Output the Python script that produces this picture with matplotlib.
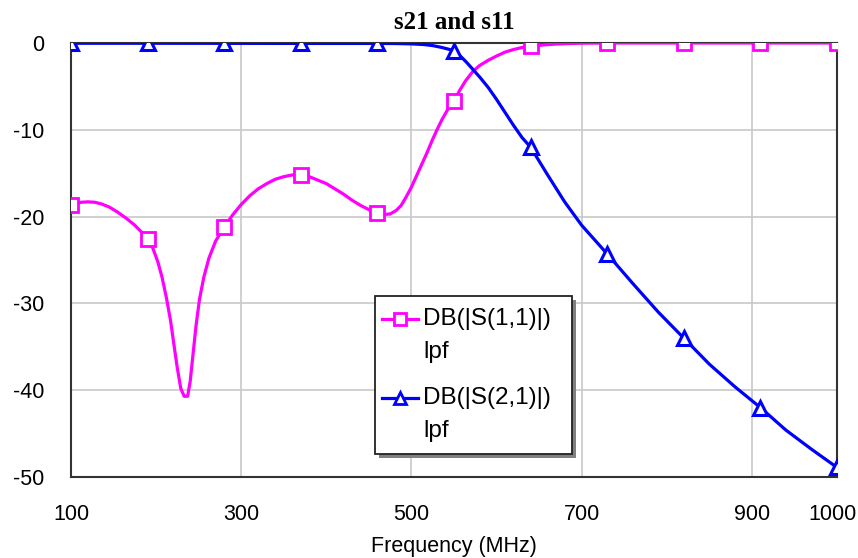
import matplotlib
matplotlib.use("Agg")
import matplotlib.pyplot as plt
from matplotlib.patches import Rectangle
import matplotlib.transforms as mtransforms

# ---- data ----
s11_freq = [100, 105, 112, 120, 128, 136, 145, 155, 165, 175, 183, 190, 196, 202, 207, 212,
            217, 221, 225, 229, 233, 237, 240, 243, 247, 251, 256, 262, 270, 280, 290, 300,
            310, 320, 330, 340, 350, 360, 370, 380, 390, 400, 410, 420, 430, 440, 450, 460,
            468, 475, 482, 488, 494, 500, 506, 512, 518, 524, 530, 536, 543, 550, 557, 564,
            572, 580, 590, 600, 610, 620, 630, 640, 655, 670, 685, 700, 730, 820, 910, 1000]
s11_db = [-18.7, -18.5, -18.35, -18.3, -18.35, -18.55, -18.9, -19.5, -20.2, -21.0, -21.8,
          -22.6, -23.6, -25.2, -27.0, -29.3, -32.0, -34.8, -37.5, -39.8, -40.7, -40.7, -39.0,
          -36.2, -32.5, -29.5, -27.0, -24.8, -22.8, -21.2, -19.8, -18.6, -17.6, -16.8, -16.2,
          -15.7, -15.4, -15.2, -15.2, -15.4, -15.8, -16.2, -16.8, -17.4, -18.1, -18.7, -19.2,
          -19.6, -19.75, -19.7, -19.3, -18.7, -17.7, -16.6, -15.3, -14.0, -12.7, -11.3, -10.0,
          -8.8, -7.6, -6.7, -5.4, -4.3, -3.3, -2.6, -2.0, -1.5, -1.05, -0.75, -0.52, -0.38,
          -0.22, -0.12, -0.06, -0.02, 0.0, 0.0, 0.0, 0.0]

s21_freq = [100, 190, 280, 370, 460, 480, 500, 515, 525, 535, 545, 550, 555, 560, 565, 570,
            580, 590, 600, 610, 620, 630, 640, 660, 680, 700, 730, 760, 790, 820, 850, 880,
            910, 940, 970, 1000]
s21_db = [-0.03, -0.03, -0.04, -0.05, -0.05, -0.06, -0.1, -0.18, -0.3, -0.5, -0.75, -0.95,
          -1.3, -1.75, -2.25, -2.8, -3.9, -5.1, -6.5, -8.0, -9.5, -10.9, -12.0, -15.2, -18.3,
          -21.0, -24.3, -27.7, -31.0, -34.0, -37.0, -39.6, -42.0, -44.6, -46.8, -48.9]

marker_freqs = [100, 190, 280, 370, 460, 550, 640, 730, 820, 910, 1000]

xticks = [100, 300, 500, 700, 900, 1000]
yticks = [0, -10, -20, -30, -40, -50]
title = "s21 and s11"
xlabel = "Frequency (MHz)"
leg_s11 = ["DB(|S(1,1)|)", "lpf"]
leg_s21 = ["DB(|S(2,1)|)", "lpf"]

MAG = "#FF00FF"
BLU = "#0000FF"

plt.rcParams['font.family'] = ['Liberation Sans', 'DejaVu Sans']

fig = plt.figure(figsize=(8.58, 5.58), dpi=100)
ax = fig.add_axes([71/858, 1-477/558, (837-71)/858, (477-43)/558])

def idx(freqs):
    return [freqs.index(f) for f in marker_freqs if f in freqs]

ax.plot(s11_freq, s11_db, color=MAG, lw=2.3, marker='s', ms=9.5, mfc='white',
        mec=MAG, mew=2.0, markevery=idx(s11_freq), zorder=3)
ax.plot(s21_freq, s21_db, color=BLU, lw=2.3, marker='^', ms=10, mfc='white',
        mec=BLU, mew=2.2, markevery=idx(s21_freq), zorder=4)

ax.set_xlim(100, 1000)
ax.set_ylim(-50, 0)
ax.set_xticks(xticks)
ax.set_yticks(yticks)
ax.set_yticklabels([str(v) for v in yticks])
ax.tick_params(length=0, labelsize=15.5)
ax.tick_params(axis='x', pad=19.5)
ax.tick_params(axis='y', pad=19.5)
ax.grid(True, color='#c8c8c8', lw=1.2)
ax.set_axisbelow(True)
for s in ax.spines.values():
    s.set_color('#333333')
    s.set_linewidth(1.5)

# keep the "1000" label inside the figure
lbl = ax.get_xticklabels()[-1]
lbl.set_transform(lbl.get_transform() +
                  mtransforms.ScaledTranslation(-5/100, 0, fig.dpi_scale_trans))

ax.set_title(title, fontsize=18, fontweight='bold', family=['Liberation Serif'], pad=10)
ax.set_xlabel(xlabel, fontsize=15.5, labelpad=8)

# ---- custom legend in axes coordinates ----
def ax_xy(px, py):
    return (px - 71) / 766, (477 - py) / 434

x0, y1 = ax_xy(375, 296)
x1, y0 = ax_xy(572, 454)
sx, sy = 4/766, 4/434
ax.add_patch(Rectangle((x0 + sx, y0 - sy), x1 - x0, y1 - y0, transform=ax.transAxes,
                       facecolor='#808080', edgecolor='none', zorder=5, clip_on=False))
ax.add_patch(Rectangle((x0, y0), x1 - x0, y1 - y0, transform=ax.transAxes,
                       facecolor='white', edgecolor='#222222', lw=1.3, zorder=6, clip_on=False))

for (lab, col, mk, py1, py2) in [(leg_s11, MAG, 's', 319, 352), (leg_s21, BLU, '^', 398, 431)]:
    lx0, ly = ax_xy(382, py1)
    lx1, _ = ax_xy(418, py1)
    ax.plot([lx0, lx1], [ly, ly], color=col, lw=2.3, transform=ax.transAxes, zorder=7,
            clip_on=False)
    ax.plot([(lx0 + lx1) / 2], [ly], color=col, marker=mk, ms=9, mfc='white', mec=col,
            mew=2.0, transform=ax.transAxes, zorder=8, clip_on=False)
    tx, _ = ax_xy(423, py1)
    ax.text(tx, ly, lab[0], transform=ax.transAxes, fontsize=17.5, va='center', ha='left',
            zorder=8)
    _, ty2 = ax_xy(423, py2)
    ax.text(tx, ty2, lab[1], transform=ax.transAxes, fontsize=17.5, va='center', ha='left',
            zorder=8)

fig.savefig("out.png", dpi=100)
